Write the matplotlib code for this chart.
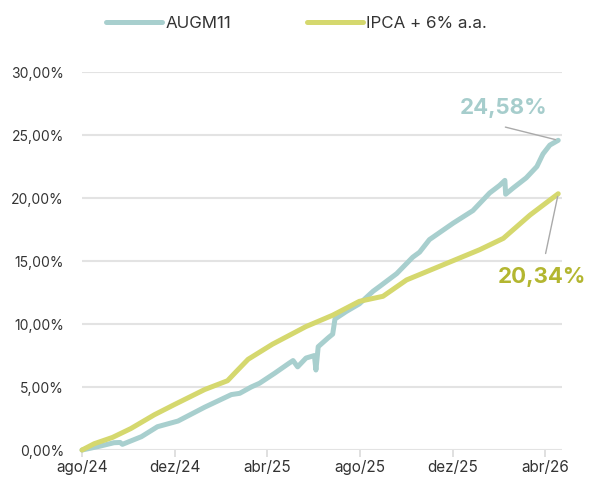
import numpy as np
import pandas as pd
import matplotlib
matplotlib.use("Agg")
from matplotlib import pyplot as plt
import matplotlib.dates as mdates

plt.rcParams['font.family'] = ['Inter', 'DejaVu Sans']

# AUGM11 cumulative return (%)
augm_dates = ["2024-08-01", "2024-08-24", "2024-09-12", "2024-09-20", "2024-09-23",
              "2024-10-18", "2024-11-08", "2024-12-05", "2025-01-09", "2025-02-13",
              "2025-02-24", "2025-03-11", "2025-03-22", "2025-04-11", "2025-04-30",
              "2025-05-05", "2025-05-11", "2025-05-22", "2025-06-02", "2025-06-04",
              "2025-06-07", "2025-06-20", "2025-06-26", "2025-06-29", "2025-07-14",
              "2025-07-31", "2025-08-18", "2025-08-27", "2025-09-18", "2025-10-09",
              "2025-10-18", "2025-10-31", "2025-12-01", "2025-12-27", "2026-01-18",
              "2026-01-31", "2026-02-07", "2026-02-08", "2026-02-18", "2026-03-07",
              "2026-03-21", "2026-03-29", "2026-04-07", "2026-04-18"]
augm_vals = [0.0, 0.3, 0.58, 0.6, 0.45,
             1.06, 1.85, 2.3, 3.4, 4.4,
             4.5, 5.0, 5.3, 6.1, 6.9,
             7.1, 6.6, 7.3, 7.5, 6.35,
             8.2, 8.9, 9.2, 10.4, 11.0,
             11.6, 12.6, 13.0, 14.0, 15.3,
             15.7, 16.7, 18.0, 19.0, 20.4,
             21.0, 21.4, 20.3, 20.8, 21.6,
             22.5, 23.5, 24.2, 24.58]

# IPCA + 6% a.a. benchmark (%)
ipca_dates = ["2024-08-01", "2024-08-17", "2024-09-10", "2024-10-04", "2024-11-04",
              "2024-11-30", "2025-01-09", "2025-02-08", "2025-02-19", "2025-03-07",
              "2025-04-08", "2025-05-22", "2025-06-26", "2025-07-31", "2025-08-31",
              "2025-10-01", "2025-11-22", "2026-01-05", "2026-02-05", "2026-03-12",
              "2026-04-18"]
ipca_vals = [0.0, 0.5, 1.0, 1.7, 2.8,
             3.6, 4.8, 5.5, 6.2, 7.2,
             8.4, 9.8, 10.7, 11.8, 12.2,
             13.5, 14.8, 15.9, 16.8, 18.65,
             20.34]

tick_dates = ["2024-08-01", "2024-12-01", "2025-04-01", "2025-08-01", "2025-12-01", "2026-04-01"]
tick_labels = ["ago/24", "dez/24", "abr/25", "ago/25", "dez/25", "abr/26"]
y_ticks = [0, 5, 10, 15, 20, 25, 30]

teal = '#a8cfce'
yellow = '#d5d86e'

fig = plt.figure(figsize=(5.96, 4.84), dpi=100)
ax = fig.add_axes([0.1376, 0.0702, 0.8054, 0.781])

xa = pd.to_datetime(augm_dates)
xi = pd.to_datetime(ipca_dates)
ax.plot(xa, augm_vals, color=teal, lw=3.6, solid_capstyle='round',
        solid_joinstyle='round', clip_on=False, zorder=3, label='AUGM11')
ax.plot(xi, ipca_vals, color=yellow, lw=3.6, solid_capstyle='round',
        solid_joinstyle='round', clip_on=False, zorder=3, label='IPCA + 6% a.a.')

ax.set_ylim(0, 30)
ax.set_xlim(pd.Timestamp("2024-08-01"), pd.Timestamp("2026-04-23"))
ax.set_yticks(y_ticks)
ax.set_yticklabels([f"{v:.2f}%".replace('.', ',') for v in y_ticks])
ax.set_xticks(pd.to_datetime(tick_dates))
ax.set_xticklabels(tick_labels)

ax.grid(axis='y', color='#e3e3e3', lw=1.5)
ax.set_axisbelow(True)
for s in ax.spines.values():
    s.set_visible(False)
ax.tick_params(axis='y', length=0, pad=13, labelsize=10, labelcolor='#333333')
ax.tick_params(axis='x', length=5, width=1.3, color='#dddddd', pad=2,
               labelsize=11, labelcolor='#333333')

# end labels
ax.annotate('', xy=(xa[-1], augm_vals[-1]), xytext=(-40, 10), textcoords='offset points',
            arrowprops=dict(arrowstyle='-', color='#aaaaaa', lw=1))
ax.annotate(f"{augm_vals[-1]:.2f}%".replace('.', ','), xy=(xa[-1], augm_vals[-1]),
            xytext=(-39, 23.5), textcoords='offset points', ha='center', va='center',
            fontsize=16, fontweight='bold', color='#a6cdcc', annotation_clip=False)
ax.annotate('', xy=(xi[-1], ipca_vals[-1]), xytext=(-9.5, -45), textcoords='offset points',
            arrowprops=dict(arrowstyle='-', color='#aaaaaa', lw=1))
ax.annotate(f"{ipca_vals[-1]:.2f}%".replace('.', ','), xy=(xi[-1], ipca_vals[-1]),
            xytext=(-12, -60), textcoords='offset points', ha='center', va='center',
            fontsize=16, fontweight='bold', color='#b3b630', annotation_clip=False)

fig.legend(loc='center', bbox_to_anchor=(0.4975, 0.952), ncol=2, frameon=False,
           fontsize=12.2, handlelength=3.3, handletextpad=0.2, columnspacing=4.5,
           labelcolor='#333333')

fig.savefig('out.png', dpi=100)
